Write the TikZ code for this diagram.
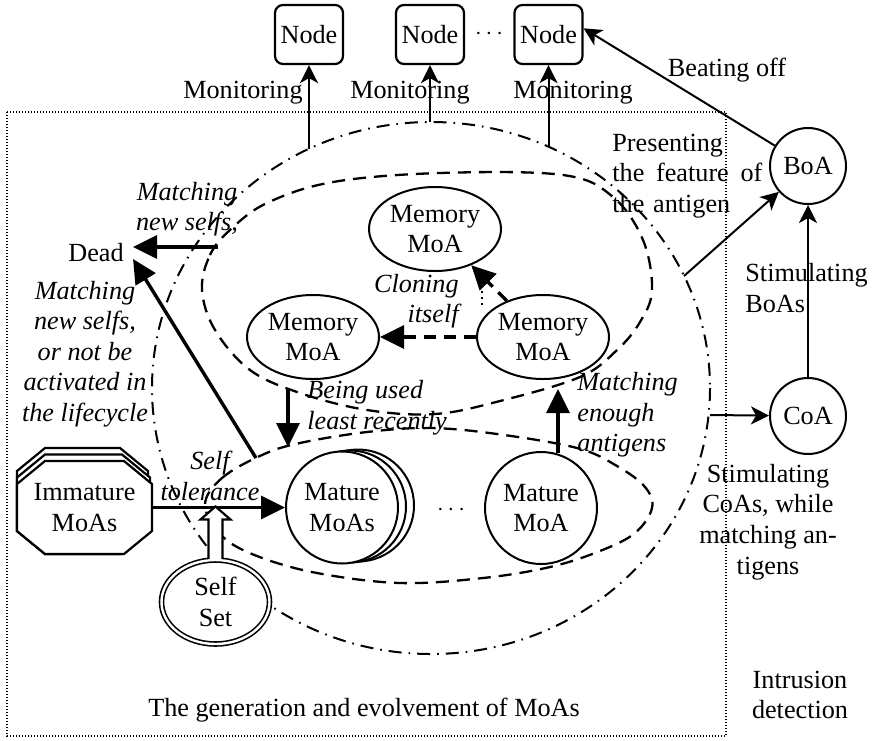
\documentclass[tikz,border=0pt]{standalone}
\usepackage{fontspec}
\setmainfont{Liberation Serif}
\usetikzlibrary{arrows.meta,shapes.geometric,calc}
\begin{document}
\begin{tikzpicture}[x=0.5pt,y=-0.5pt,
  every node/.style={font=\fontsize{13.1}{15.3}\selectfont, inner sep=0pt},
  itlab/.style={font=\fontsize{13.1}{15.3}\selectfont\itshape},
  hostbox/.style={draw, rounded corners=4pt, line width=1.1pt, minimum width=34pt,
    minimum height=29.5pt, fill=white},
  memnode/.style={ellipse, draw, line width=1pt, minimum width=66pt, minimum height=42pt,
    align=center, fill=white},
  roundnode/.style={circle, draw, line width=1pt, fill=white, align=center},
  thinarrow/.style={line width=1pt, -{Stealth[length=9pt,width=9pt,inset=2.5pt]}},
  thickarrow/.style={line width=1.7pt, -{Triangle[length=12pt,width=11.5pt]}},
  dasharrow/.style={thickarrow, dash pattern=on 6pt off 4pt},
  groupline/.style={line width=1.15pt, dash pattern=on 6.5pt off 4pt},
  dashdot/.style={line width=1pt, dash pattern=on 6.5pt off 3.5pt on 0.8pt off 3.5pt},
  octa/.style={draw, line width=1.1pt, fill=white},
]
\useasboundingbox (0,0) rectangle (877,740);

% frame of the generation stage
\draw[line width=0.6pt, dash pattern=on 0.6pt off 0.9pt] (7,112) rectangle (726,736);

% outer life-cycle boundary
\draw[dashdot] (431,388) ellipse [x radius=279, y radius=266];

% memory group boundary
\draw[groupline] plot[smooth cycle, tension=0.6] coordinates {
  (202,290) (210,255) (230,230) (267,203) (333,182) (440,173) (563,175)
  (613,197) (643,240) (652,290) (640,322) (617,350) (580,377) (500,401)
  (435,414) (367,410) (300,393) (250,370) (215,330)};

% mature group boundary
\draw[groupline] plot[smooth cycle, tension=0.6] coordinates {
  (205,505) (222,478) (262,455) (300,443) (367,432) (430,428) (497,434)
  (577,448) (617,466) (645,487) (652,508) (635,533) (600,551) (550,567)
  (483,578) (400,583) (317,573) (257,556) (222,536)};

% monitored hosts
\node[hostbox] (n1) at (309,34.5) {Node};
\node[hostbox] (n2) at (430,34.5) {Node};
\node[hostbox] (n3) at (548.5,34.5) {Node};
\node (ndots) at (489,34.5) {$\cdots$};

\coordinate (m1) at (309,149);
\coordinate (m2) at (430,122);
\coordinate (m3) at (548.5,146);
\draw[thinarrow] (m1) -- (n1);
\draw[thinarrow] (m2) -- (n2);
\draw[thinarrow] (m3) -- (n3);
\node at (243,93) {Monitoring};
\node at (410,93) {Monitoring};
\node at (573,93) {Monitoring};

% intrusion detection side
\node[roundnode, minimum size=38pt] (boa) at (808,166) {BoA};
\node[roundnode, minimum size=38pt] (coa) at (808,416) {CoA};
\draw[thinarrow] (boa) -- (n3.10);
\node at (727,70) {Beating off};
\coordinate (p1) at (684,276);
\draw[thinarrow] (p1) -- (boa);
\coordinate (c1) at (710,415);
\draw[thinarrow] (c1) -- (coa);
\draw[thinarrow] (coa) -- (boa);

\node[anchor=west, text width=75pt, align=left] at (612,176)
  {Presenting\\the\hfill feature\hfill of\\the antigen};
\node[anchor=west, align=left] at (745,288) {Stimulating\\BoAs};
\node[align=center] at (768,522) {Stimulating\\CoAs, while\\matching an-\\tigens};
\node[align=center] at (800,695) {Intrusion\\detection};
\node at (364,710) {The generation and evolvement of MoAs};

% memory MoAs
\node[memnode] (mem1) at (435,229) {Memory\\MoA};
\node[memnode] (mem2) at (313,337) {Memory\\MoA};
\node[memnode] (mem3) at (543,337) {Memory\\MoA};
\draw[dasharrow] (mem3) -- (mem2);
\draw[dasharrow] (mem3) -- (mem1);
\draw[line width=1pt, dotted] (482,285) -- (482,305);
\node[itlab, align=right, anchor=east] at (459,301) {Cloning\\itself};

% immature MoAs (stacked octagons, back copies raised and narrowed on the right)
\foreach \k in {2,1,0} {
  \pgfmathsetmacro{\t}{461-6.5*\k}
  \pgfmathsetmacro{\r}{152-2*\k}
  \draw[octa] (45,\t) -- (\r-28,\t) -- (\r,\t+23) -- (\r,531)
    -- (\r-28,554) -- (45,554) -- (17,531) -- (17,\t+23) -- cycle;
}
\node[align=center, minimum width=67.5pt, minimum height=46.5pt] (imm) at (84.5,507.5)
  {Immature\\MoAs};

% mature MoAs
\foreach \s in {16,8} {
  \draw[line width=1pt, fill=white] (342+\s,507.5-\s/8) circle [radius=56];
}
\node[roundnode, minimum size=56pt] (mat) at (342,507.5) {Mature\\MoAs};
\node[roundnode, minimum size=56pt] (mat2) at (541,508) {Mature\\MoA};
\node at (451,510) {$\cdots$};

% self set
\node[ellipse, draw, double, double distance=1.2pt, line width=0.8pt, fill=white,
  minimum width=54pt, minimum height=42pt, align=center] (ss) at (215.5,602) {Self\\Set};

% transitions
\draw[thickarrow] (imm) -- (mat);
\coordinate (st) at (ss.north |- imm.east);
\draw[line width=1.1pt, fill=white]
  ($(ss.north)+(-7,0)$) -- ($(st)+(-7,12)$) -- ($(st)+(-15,12)$) -- ($(st)+(0,-1)$)
  -- ($(st)+(15,12)$) -- ($(st)+(7,12)$) -- ($(ss.north)+(7,0)$);
\node[itlab, align=center] at (210,476) {Self\\tolerance};

\coordinate (u1) at (288,389);
\coordinate (u2) at (288,447);
\draw[thickarrow] (u1) -- (u2);
\node[itlab, anchor=west, align=left] at (307,408) {Being used\\least recently};

\coordinate (v1) at (558,453);
\coordinate (v2) at (558,389);
\draw[thickarrow] (v1) -- (v2);
\node[itlab, anchor=west, align=left] at (577,415) {Matching\\enough\\antigens};

% death
\node (dead) at (96,253) {Dead};
\coordinate (d1) at (218,247);
\draw[thickarrow] (d1) -- (d1 -| {$(dead.east)+(9,0)$});
\coordinate (d2) at (256,458);
\draw[thickarrow] (d2) -- ($(dead.east)+(9,6)$);
\node[itlab, align=center] at (187,209) {Matching\\new selfs,};
\node[itlab, align=center] at (85,354)
  {Matching\\new selfs,\\or not be\\activated in\\the lifecycle};
\end{tikzpicture}
\end{document}
